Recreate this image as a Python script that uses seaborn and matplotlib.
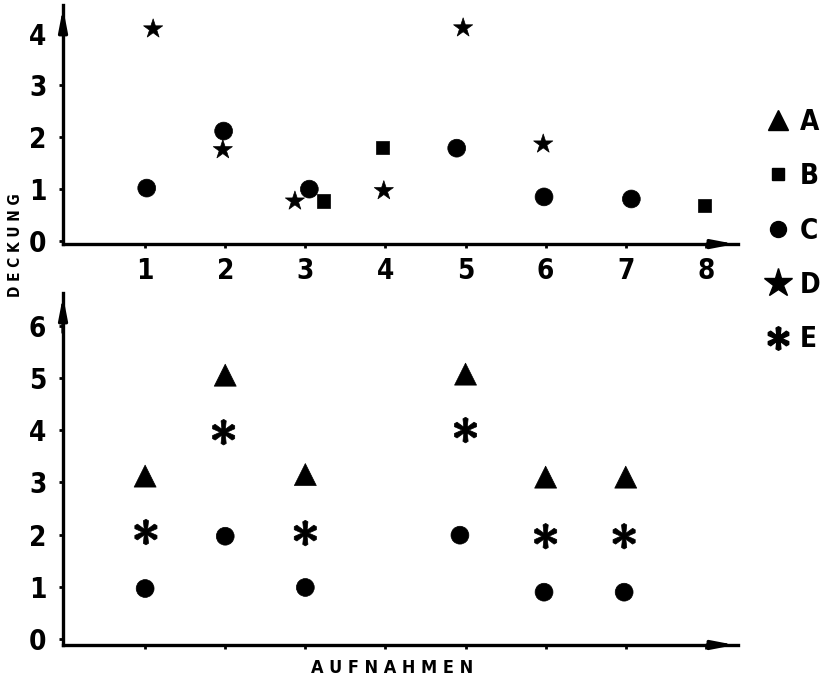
import numpy as np
import pandas as pd
import matplotlib.pyplot as plt
from matplotlib.path import Path
from matplotlib.lines import Line2D
import seaborn as sns

sns.set_style("ticks")
plt.rcParams['font.family'] = ['DejaVu Sans']
plt.rcParams['font.stretch'] = 'condensed'
plt.rcParams['font.weight'] = 'bold'
plt.rcParams['text.color'] = 'black'
plt.rcParams['xtick.color'] = 'black'
plt.rcParams['ytick.color'] = 'black'
plt.rcParams['axes.edgecolor'] = 'black'

# oberes Diagramm (Arten B, C, D)
top_B_x = [3.23, 3.96, 7.98]
top_B_y = [0.77, 1.81, 0.69]
top_C_x = [1.02, 1.98, 3.05, 4.89, 5.98, 7.07]
top_C_y = [1.02, 2.12, 1.0, 1.79, 0.85, 0.81]
top_D_x = [1.10, 1.97, 2.87, 3.98, 4.97, 5.97]
top_D_y = [4.09, 1.76, 0.77, 0.97, 4.11, 1.87]

# unteres Diagramm (Arten A, C, E)
bot_A_x = [1, 2, 3, 5, 6, 7]
bot_A_y = [3.12, 5.05, 3.15, 5.07, 3.1, 3.1]
bot_C_x = [1, 2, 3, 4.93, 5.98, 6.98]
bot_C_y = [0.97, 1.97, 0.99, 1.99, 0.9, 0.9]
bot_E_x = [1.01, 1.98, 3.0, 5.0, 6.0, 6.98]
bot_E_y = [2.05, 3.96, 2.03, 4.0, 1.97, 1.97]

xticks = [1, 2, 3, 4, 5, 6, 7, 8]
arten = ["A", "B", "C", "D", "E"]


def make_df(parts):
    rows = []
    for art, xs, ys in parts:
        for x, y in zip(xs, ys):
            rows.append({"Aufnahme": x, "Deckung": y, "Art": art})
    return pd.DataFrame(rows)


df_top = make_df([("B", top_B_x, top_B_y), ("C", top_C_x, top_C_y), ("D", top_D_x, top_D_y)])
df_bot = make_df([("A", bot_A_x, bot_A_y), ("C", bot_C_x, bot_C_y), ("E", bot_E_x, bot_E_y)])

# sechsarmiger Stern als gefuellte Markierung
verts = []
for k in range(6):
    t = np.deg2rad(90 + 60 * k)
    for a, r in [(-30, 0.28), (-13, 0.95), (0, 1.05), (13, 0.95)]:
        verts.append((r * np.cos(t + np.deg2rad(a)), r * np.sin(t + np.deg2rad(a))))
verts.append(verts[0])
asterisk = Path(verts, [Path.MOVETO] + [Path.LINETO] * (len(verts) - 2) + [Path.CLOSEPOLY])

markers = {"A": "^", "B": "s", "C": "o", "D": "*", "E": asterisk}
sizes = {"A": 250, "B": 90, "C": 165, "D": 210, "E": 340}

fig = plt.figure(figsize=(8.25, 6.78), dpi=100)
ax1 = fig.add_axes([0.0764, 0.640, 0.818, 0.3525])
ax2 = fig.add_axes([0.0764, 0.0487, 0.818, 0.519])

arrow = dict(arrowstyle="-|>,head_length=1.3,head_width=0.25", color="black", lw=2.4)
for ax, df in [(ax1, df_top), (ax2, df_bot)]:
    sns.scatterplot(data=df, x="Aufnahme", y="Deckung", style="Art", size="Art",
                    markers=markers, sizes=sizes, color="black", edgecolor="black",
                    linewidth=0.5, legend=False, ax=ax, clip_on=False)
    ax.set_xlim(-0.025, 8.4)
    ax.set_xticks(xticks)
    ax.set_xlabel("")
    ax.set_ylabel("")
    for s in ["top", "right"]:
        ax.spines[s].set_visible(False)
    for s in ["left", "bottom"]:
        ax.spines[s].set_linewidth(2.4)
    ax.tick_params(axis="both", length=3, width=2, labelsize=20)
    ax.tick_params(axis="y", pad=9)
    ax.tick_params(axis="x", pad=6)
    ax.annotate("", xy=(1.0, 0), xytext=(0.95, 0), xycoords="axes fraction",
                arrowprops=arrow, annotation_clip=False)
    ax.annotate("", xy=(0, 1.0), xytext=(0, 0.88), xycoords="axes fraction",
                arrowprops=arrow, annotation_clip=False)

ax1.set_ylim(-0.06, 4.55)
ax1.set_yticks([0, 1, 2, 3, 4])
ax2.set_ylim(-0.11, 6.62)
ax2.set_yticks([0, 1, 2, 3, 4, 5, 6])
ax2.set_xticklabels([])

handles = [Line2D([], [], linestyle="none", marker=markers[a], color="black",
                  markersize=ms) for a, ms in zip(arten, [14, 8.5, 11.5, 21, 17])]
fig.legend(handles, arten, loc="center left", bbox_to_anchor=(0.9, 0.66),
           frameon=False, fontsize=20, handlelength=0.72, handletextpad=0.45,
           labelspacing=0.95, borderpad=0.4)

fig.text(0.019, 1 - 245 / 678, "D E C K U N G", rotation=90, fontsize=11,
         fontweight="bold", ha="center", va="center")
fig.text(392 / 825, 1 - 668 / 678, "A U F N A H M E N", fontsize=13,
         fontweight="bold", ha="center", va="center")

fig.savefig("out.png", dpi=100)
